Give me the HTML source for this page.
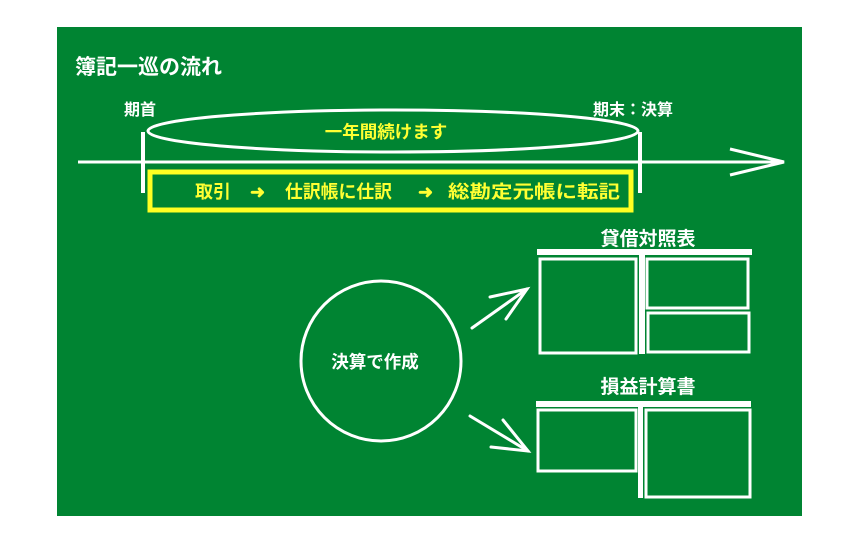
<!DOCTYPE html>
<html><head><meta charset="utf-8"><style>
body{margin:0;width:850px;height:550px;background:#fff;overflow:hidden}
text{font-family:"Liberation Sans","Noto Sans CJK JP",sans-serif;font-weight:bold}
</style></head><body>
<svg width="850" height="550" xmlns="http://www.w3.org/2000/svg">
<rect x="57" y="27" width="745" height="489" fill="#008432"/>
<text x="75" y="74" font-size="21" fill="#fff">簿記一巡の流れ</text>
<text x="124" y="115" font-size="16" fill="#fff">期首</text>
<text x="593" y="115" font-size="16" fill="#fff">期末：決算</text>
<ellipse cx="393" cy="131" rx="245" ry="21" fill="none" stroke="#fff" stroke-width="3"/>
<text x="386" y="138" font-size="17.5" fill="#ffff33" text-anchor="middle">一年間続けます</text>
<line x1="78" y1="162" x2="782" y2="162" stroke="#fff" stroke-width="3"/>
<polyline points="730,149 784,162 730,175" fill="none" stroke="#fff" stroke-width="3"/>
<line x1="143" y1="132" x2="143" y2="193" stroke="#fff" stroke-width="4"/>
<line x1="640" y1="132" x2="640" y2="193" stroke="#fff" stroke-width="4"/>
<rect x="150" y="172" width="481" height="38" fill="none" stroke="#ffff22" stroke-width="5"/>
<g font-size="18" fill="#ffff33">
<text x="195" y="198" textLength="36" lengthAdjust="spacingAndGlyphs">取引</text>
<text x="250" y="198">➜</text>
<text x="285" y="198" textLength="107" lengthAdjust="spacingAndGlyphs">仕訳帳に仕訳</text>
<text x="418" y="198">➜</text>
<text x="448" y="198" textLength="172" lengthAdjust="spacingAndGlyphs">総勘定元帳に転記</text>
</g>
<circle cx="381" cy="361" r="80" fill="none" stroke="#fff" stroke-width="3"/>
<text x="375" y="368" font-size="17.5" fill="#fff" text-anchor="middle">決算で作成</text>
<g stroke="#fff" stroke-width="3" fill="none" stroke-linecap="round">
<line x1="472" y1="328" x2="527" y2="289"/><polyline points="490,297 527,289 506,319"/>
<line x1="470" y1="416" x2="528" y2="451"/><polyline points="503,420 528,451 491,447"/>
</g>
<text x="648" y="245" font-size="19" fill="#fff" text-anchor="middle">貸借対照表</text>
<rect x="537" y="249" width="215" height="6" fill="#fff"/>
<rect x="639" y="249" width="6" height="105" fill="#fff"/>
<g fill="none" stroke="#fff" stroke-width="3">
<rect x="540" y="259" width="96" height="94"/>
<rect x="647" y="259" width="101" height="49"/>
<rect x="648" y="313" width="101" height="39"/>
<rect x="538" y="410" width="98" height="61"/>
<rect x="646" y="410" width="104" height="87"/>
</g>
<text x="648" y="393" font-size="19" fill="#fff" text-anchor="middle">損益計算書</text>
<rect x="536" y="401" width="215" height="6" fill="#fff"/>
<rect x="638" y="401" width="5" height="97" fill="#fff"/>
</svg>
</body></html>
